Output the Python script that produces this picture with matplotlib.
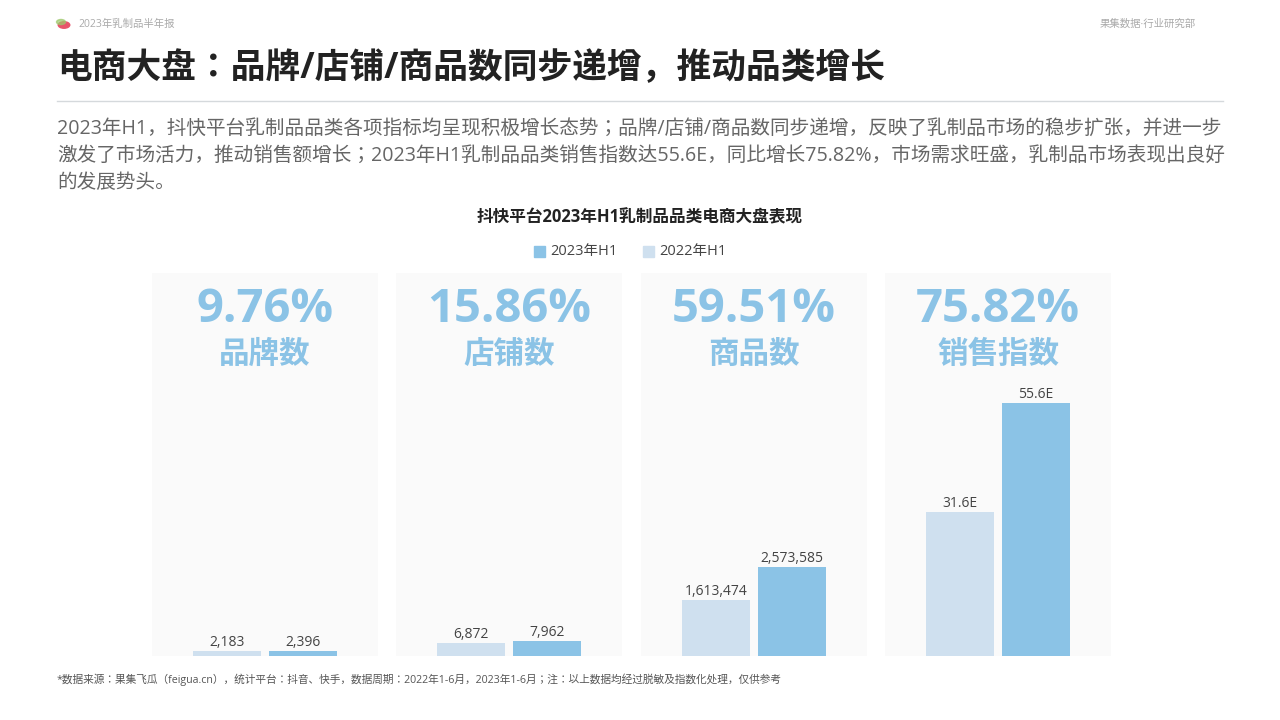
import matplotlib
matplotlib.use("Agg")
import matplotlib.pyplot as plt
from matplotlib.patches import Rectangle, Circle
from matplotlib import font_manager as fm

names = sorted({f.name for f in fm.fontManager.ttflist if "CJK" in f.name and "Sans" in f.name})
cjk = next((n for n in names if "SC" in n), names[0] if names else "Noto Sans CJK SC")
plt.rcParams['font.family'] = ['Open Sans', cjk, 'DejaVu Sans']

metrics = ["品牌数", "店铺数", "商品数", "销售指数"]
growth = ["9.76%", "15.86%", "59.51%", "75.82%"]
v2022 = [2183, 6872, 1613474, 31.6]
v2023 = [2396, 7962, 2573585, 55.6]
labels2022 = ["2,183", "6,872", "1,613,474", "31.6E"]
labels2023 = ["2,396", "7,962", "2,573,585", "55.6E"]
series = ["2023年H1", "2022年H1"]

C23 = "#8bc3e6"
C22 = "#cfe0ef"
W, H = 1280, 720
fig = plt.figure(figsize=(12.8, 7.2), dpi=100)
fig.patch.set_facecolor("white")

def fx(x): return x / W
def fy(y): return 1 - y / H

# header
fig.patches.append(Circle((fx(64), fy(25)), 0.0045, transform=fig.transFigure, color="#e8546a"))
fig.patches.append(Circle((fx(61), fy(22)), 0.0035, transform=fig.transFigure, color="#9cc86a", alpha=0.7))
fig.text(fx(78), fy(24), "2023年乳制品半年报", fontsize=7.5, color="#aaaaaa", va="center")
fig.text(fx(1196), fy(24), "果集数据·行业研究部", fontsize=7.5, color="#aaaaaa", va="center", ha="right")
fig.text(fx(57), fy(69), "电商大盘：品牌/店铺/商品数同步递增，推动品类增长", fontsize=25, color="#222222",
         va="center", fontweight="bold")
fig.add_artist(plt.Line2D([fx(57), fx(1223)], [fy(101), fy(101)], color="#d5d9dc", lw=1))
para = ["2023年H1，抖快平台乳制品品类各项指标均呈现积极增长态势；品牌/店铺/商品数同步递增，反映了乳制品市场的稳步扩张，并进一步",
        "激发了市场活力，推动销售额增长；2023年H1乳制品品类销售指数达55.6E，同比增长75.82%，市场需求旺盛，乳制品市场表现出良好",
        "的发展势头。"]
for i, line in enumerate(para):
    fig.text(fx(57), fy(129 + i * 27), line, fontsize=14.1, color="#666666", va="center")

fig.text(fx(640), fy(217), "抖快平台2023年H1乳制品品类电商大盘表现", fontsize=12, fontweight="bold",
         ha="center", va="center", color="#222222")
# legend
fig.patches.append(Rectangle((fx(534), fy(257)), 11 / W, 11 / H, transform=fig.transFigure, color=C23))
fig.text(fx(550), fy(251), series[0], fontsize=10.5, color="#444444", va="center")
fig.patches.append(Rectangle((fx(643), fy(257)), 11 / W, 11 / H, transform=fig.transFigure, color=C22))
fig.text(fx(659), fy(251), series[1], fontsize=10.5, color="#444444", va="center")

lefts = [152, 396, 641, 885]
ymaxes = [183500, 203300, 11070000, 84.2]
for i in range(4):
    ax = fig.add_axes([fx(lefts[i]), fy(656), 226 / W, 383 / H])
    ax.set_facecolor("#fafafa")
    for s in ax.spines.values():
        s.set_visible(False)
    ax.set_xticks([]); ax.set_yticks([])
    ax.set_xlim(-1, 2)
    ax.set_ylim(0, ymaxes[i])
    ax.bar([0], [v2022[i]], width=0.9, color=C22)
    ax.bar([1], [v2023[i]], width=0.9, color=C23)
    off = ymaxes[i] * 0.003
    ax.text(0, v2022[i] + off, labels2022[i], ha="center", va="bottom", fontsize=10, color="#444444")
    ax.text(1, v2023[i] + off, labels2023[i], ha="center", va="bottom", fontsize=10, color="#444444")
    ax.text(0.5, 0.905, growth[i], transform=ax.transAxes, ha="center", va="center", fontsize=34,
            fontweight="bold", color=C23)
    ax.text(0.5, 0.785, metrics[i], transform=ax.transAxes, ha="center", va="center", fontsize=22,
            fontweight="bold", color=C23)

fig.text(fx(57), fy(680), "*数据来源：果集飞瓜（feigua.cn），统计平台：抖音、快手，数据周期：2022年1-6月，2023年1-6月；注：以上数据均经过脱敏及指数化处理，仅供参考",
         fontsize=7.7, color="#555555", va="center")

fig.savefig("out.png", dpi=100)
